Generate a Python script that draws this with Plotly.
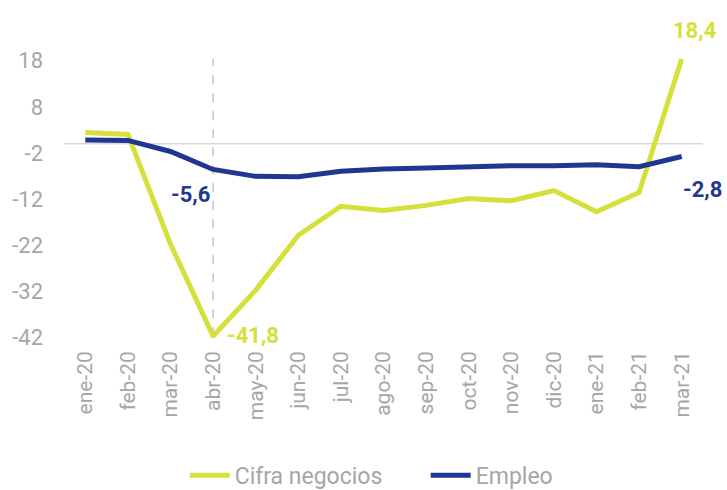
import plotly.graph_objects as go

months = ["ene-20", "feb-20", "mar-20", "abr-20", "may-20", "jun-20", "jul-20",
          "ago-20", "sep-20", "oct-20", "nov-20", "dic-20", "ene-21", "feb-21", "mar-21"]
cifra_negocios = [2.4, 2.0, -21.8, -41.8, -31.8, -19.9, -13.6, -14.5, -13.4,
                  -11.9, -12.4, -10.2, -14.8, -10.6, 18.4]
empleo = [0.8, 0.7, -1.7, -5.6, -7.1, -7.2, -6.0, -5.5, -5.3, -5.0, -4.8, -4.8,
          -4.6, -5.0, -2.8]
y_ticks = [18, 8, -2, -12, -22, -32, -42]

LIME = "#D5E03B"
NAVY = "#1F3790"
GREY = "#A6A6A6"
FONT = "Roboto"

fig = go.Figure()
fig.add_trace(go.Scatter(x=months, y=cifra_negocios, mode="lines", name="Cifra negocios",
                         line=dict(color=LIME, width=5)))
fig.add_trace(go.Scatter(x=months, y=empleo, mode="lines", name="Empleo",
                         line=dict(color=NAVY, width=5)))

# zero line
fig.add_shape(type="line", xref="paper", yref="y", x0=0, x1=1, y0=0, y1=0,
              line=dict(color="#D9D9D9", width=1.5), layer="below")
# dashed vertical marker at abr-20
fig.add_shape(type="line", xref="x", yref="y", x0="abr-20", x1="abr-20",
              y0=cifra_negocios[3], y1=cifra_negocios[-1],
              line=dict(color=GREY, width=1, dash="dash"), layer="below")

def lab(xi, yv, text, color, dx, dy):
    fig.add_annotation(x=xi, y=yv, text="<b>%s</b>" % text, showarrow=False,
                       xref="x", yref="y", xshift=dx, yshift=dy,
                       font=dict(family=FONT, size=22, color=color))

lab("abr-20", empleo[3], "-5,6", NAVY, -23, -25)
lab("abr-20", cifra_negocios[3], "-41,8", LIME, 40, 1)
lab("mar-21", cifra_negocios[-1], "18,4", LIME, 13, 28)
lab("mar-21", empleo[-1], "-2,8", NAVY, 21, -33)

fig.update_layout(
    width=727, height=490,
    margin=dict(l=64, r=24, t=58, b=152, autoexpand=False),
    paper_bgcolor="white", plot_bgcolor="white",
    font=dict(family=FONT, color=GREY),
    showlegend=True,
    legend=dict(orientation="h", x=0.566, xanchor="center", y=-0.49, yanchor="middle",
                font=dict(family=FONT, size=23, color=GREY), itemwidth=40,
                entrywidth=186, entrywidthmode="pixels",
                bgcolor="rgba(0,0,0,0)"),
    xaxis=dict(type="category", range=[-0.5, 14.5], showgrid=False, zeroline=False,
               showline=False, ticks="", tickangle=-90, automargin=False,
               tickfont=dict(family=FONT, size=21, color=GREY), ticklabelstandoff=8),
    yaxis=dict(range=[-42.2, 18.6], tickvals=y_ticks, ticktext=[str(v) for v in y_ticks],
               showgrid=False, zeroline=False, showline=False, ticks="", automargin=False,
               tickfont=dict(family=FONT, size=22, color=GREY), ticklabelstandoff=20),
)

fig.write_html("out.html", config={"displayModeBar": False},
               post_script="document.body.style.margin='0';document.body.style.overflow='hidden';")
